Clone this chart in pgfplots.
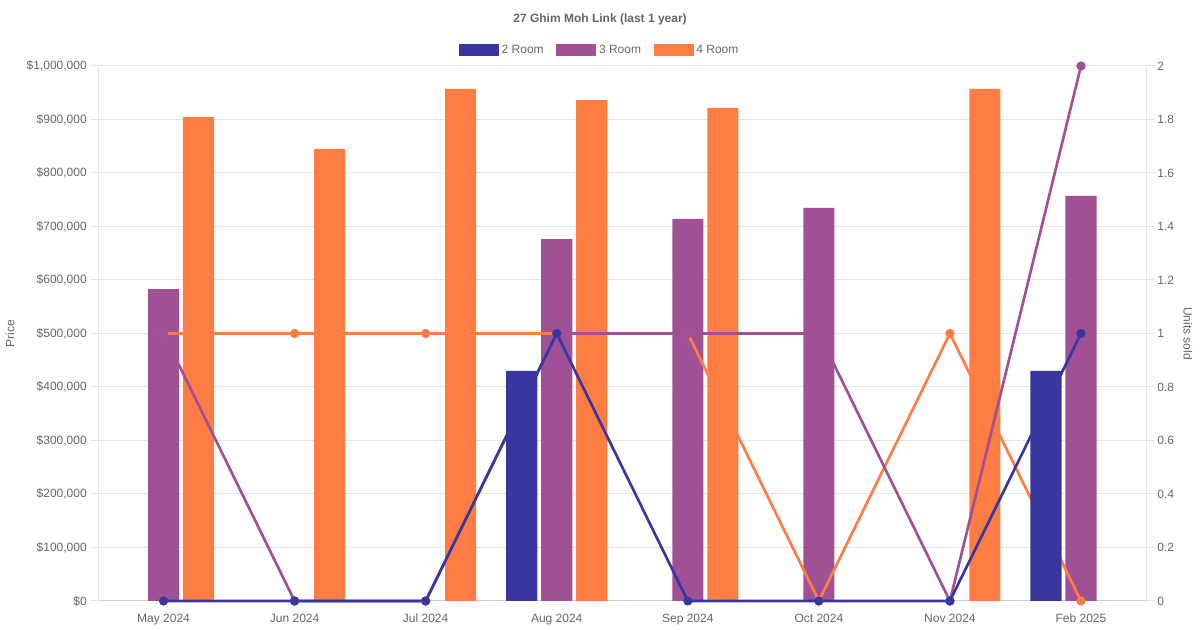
\documentclass[border=0pt]{standalone}
\usepackage{pgfplots}
\pgfplotsset{compat=1.18}
\usepackage{fontspec}
\setmainfont{Liberation Sans}
\definecolor{c2}{HTML}{3A36A0}
\definecolor{c3}{HTML}{A05195}
\definecolor{c4}{HTML}{FF7C43}
\definecolor{txt}{HTML}{666666}
\definecolor{gridc}{HTML}{E5E5E5}
\definecolor{axc}{HTML}{CFCFCF}
\pgfplotsset{
 base/.style={scale only axis, width=786.4pt, height=401.25pt, at={(73.5pt,21.75pt)}, anchor=south west, xmin=-0.5, xmax=7.5, scaled y ticks=false},
 leftax/.style={base, ymin=0, ymax=1000000},
 rightax/.style={base, ymin=0, ymax=2},
 barst/.style={ybar, bar width=0.237, draw=none},
 linest/.style={line width=2pt, mark=*, mark size=2.4pt, mark options={solid}},
}
\begin{document}
\begin{tikzpicture}[font=\fontsize{9pt}{11pt}\selectfont, text=txt]
\path[use as bounding box] (0,0) rectangle (900pt,472.5pt);
% axis 1: frame, grid, left ticks, 3 Room bars, legend
\begin{axis}[leftax,
  axis x line*=bottom, axis y line*=left,
  y axis line style={draw=gridc, line width=0.75pt, -},
  x axis line style={draw=axc, line width=0.75pt, -},
  ymajorgrids, grid style={draw=gridc, line width=0.75pt},
  ytick={0,100000,200000,300000,400000,500000,600000,700000,800000,900000,1000000},
  yticklabels={{\$0},{\$100,000},{\$200,000},{\$300,000},{\$400,000},{\$500,000},{\$600,000},{\$700,000},{\$800,000},{\$900,000},{\$1,000,000}},
  xtick={0,1,2,3,4,5,6,7},
  xticklabels={May 2024,Jun 2024,Jul 2024,Aug 2024,Sep 2024,Oct 2024,Nov 2024,Feb 2025},
  xtick style={draw=none},
  ytick style={draw=gridc, line width=0.75pt},
  tick align=outside, major tick length=6pt,
  yticklabel style={anchor=east, inner sep=0pt, xshift=-2.25pt, text=txt},
  xticklabel style={anchor=north, inner sep=0pt, yshift=-3.75pt, text=txt},
  ylabel={Price},
  ylabel style={at={(axis description cs:-0.0839,0.5)}, anchor=center, text=txt},
  title={\bfseries 27 Ghim Moh Link (last 1 year)},
  title style={at={(axis description cs:0.4788,1.0729)}, anchor=center, text=txt},
  legend image code/.code={\fill[#1] (0pt,-4.5pt) rectangle (30pt,4.5pt);},
  legend style={at={(axis description cs:0.4788,1.03)}, anchor=center, draw=none, fill=none,
    legend columns=3, text=txt, font=\fontsize{9pt}{11pt}\selectfont,
    /tikz/every even column/.append style={column sep=7.5pt}},
]
\addplot[barst, fill=c3, bar shift=0, forget plot] coordinates {(0,583000) (3,676600) (4,714000) (5,734600) (7,757000)};
\addlegendimage{fill=c2, draw=none}
\addlegendentry{2 Room}
\addlegendimage{fill=c3, draw=none}
\addlegendentry{3 Room}
\addlegendimage{fill=c4, draw=none}
\addlegendentry{4 Room}
\end{axis}
% axis 2: right scale, 4 Room line
\begin{axis}[rightax,
  axis y line*=right, axis x line=none,
  y axis line style={draw=gridc, line width=0.75pt, -},
  ytick={0,0.2,0.4,0.6,0.8,1,1.2,1.4,1.6,1.8,2},
  yticklabels={0,0.2,0.4,0.6,0.8,1,1.2,1.4,1.6,1.8,2},
  ytick style={draw=gridc, line width=0.75pt},
  tick align=outside, major tick length=6pt,
  yticklabel style={anchor=west, inner sep=0pt, xshift=1.9pt, text=txt},
  ylabel={Units sold},
  ylabel style={at={(axis description cs:1.0395,0.5)}, anchor=center, rotate=180, text=txt},
  clip=false,
]
\addplot[linest, c4] coordinates {(0,1) (1,1) (2,1) (3,1) (4,1) (5,0) (6,1) (7,0)};
\end{axis}
% axis 3: 4 Room bars
\begin{axis}[leftax, hide axis]
\addplot[barst, fill=c4, bar shift=0.267] coordinates {(0,904700) (1,844900) (2,957000) (3,936400) (4,921500) (6,957000)};
\end{axis}
% axis 4: 3 Room and 2 Room lines
\begin{axis}[rightax, hide axis, clip=false]
\addplot[linest, c3] coordinates {(0,1) (1,0) (2,0) (3,1) (4,1) (5,1) (6,0) (7,2)};
\addplot[linest, c2] coordinates {(0,0) (1,0) (2,0) (3,1) (4,0) (5,0) (6,0) (7,1)};
\end{axis}
% axis 5: 2 Room bars
\begin{axis}[leftax, hide axis]
\addplot[barst, fill=c2, bar shift=-0.267] coordinates {(3,430000) (7,430000)};
\end{axis}
\end{tikzpicture}
\end{document}
